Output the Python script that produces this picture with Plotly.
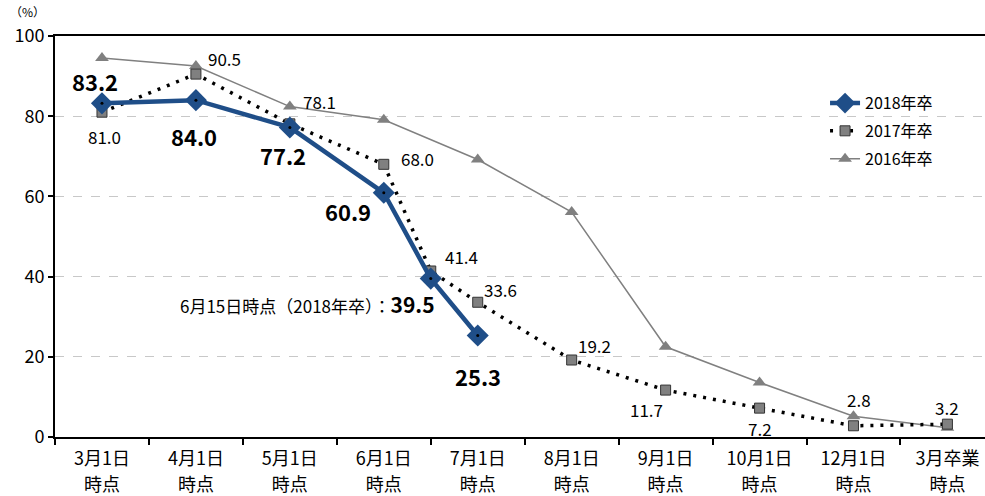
import plotly.graph_objects as go

tick_line1 = ["3月1日", "4月1日", "5月1日", "6月1日", "7月1日",
              "8月1日", "9月1日", "10月1日", "12月1日", "3月卒業"]
tick_line2 = ["時点"] * 10
cat_pos = [0, 1, 2, 3, 4, 5, 6, 7, 8, 9]

# 2018年卒 (includes 6月15日 point between 6月1日 and 7月1日)
x_2018 = [0, 1, 2, 3, 3.5, 4]
y_2018 = [83.2, 84.0, 77.2, 60.9, 39.5, 25.3]

x_2017 = [0, 1, 2, 3, 3.5, 4, 5, 6, 7, 8, 9]
y_2017 = [81.0, 90.5, 78.1, 68.0, 41.4, 33.6, 19.2, 11.7, 7.2, 2.8, 3.2]

x_2016 = [0, 1, 2, 3, 4, 5, 6, 7, 8, 9]
y_2016 = [94.5, 92.5, 82.4, 79.1, 69.2, 56.1, 22.5, 13.6, 5.2, 2.3]

# label offsets (pixels) for data labels
off_2018 = [(-7, 22), (-2, -36), (-7, -28), (-36, -18), (6, -25), (0, -40)]
off_2017 = [(3, -24), (29, 16), (30, 22), (34, 6), (31, 14), (23, 13), (23, 15),
            (-19, -19), (0, -20), (6, 26), (0, 17)]

FONT = "Noto Sans CJK JP"
BLUE = "#1F4E88"
GRAY = "#808080"

fig = go.Figure()

fig.add_trace(go.Scatter(
    x=x_2016, y=y_2016, name="2016年卒", mode="lines+markers",
    line=dict(color=GRAY, width=1.5),
    marker=dict(symbol="triangle-up", size=12, color=GRAY),
    legendgroup="c", legendrank=3,
))
fig.add_trace(go.Scatter(
    x=x_2017, y=y_2017, name="2017年卒", mode="lines+markers",
    line=dict(color="black", width=3.5, dash="3px,7px"),
    marker=dict(symbol="square", size=10, color=GRAY, line=dict(color="#333333", width=1)),
    legendgroup="b", legendrank=2,
))
fig.add_trace(go.Scatter(
    x=x_2018, y=y_2018, name="2018年卒", mode="lines+markers",
    line=dict(color=BLUE, width=4.5),
    marker=dict(symbol="diamond", size=17, color=BLUE),
    legendgroup="a", legendrank=1,
))
fig.add_trace(go.Scatter(
    x=x_2018, y=y_2018, mode="markers", showlegend=False, hoverinfo="skip",
    marker=dict(symbol="circle", size=3, color="black"),
))
# invisible trace on the second x-axis (carries the "時点" tick row)
fig.add_trace(go.Scatter(
    x=cat_pos, y=[None] * len(cat_pos), xaxis="x2", yaxis="y", mode="markers",
    showlegend=False, hoverinfo="skip", marker=dict(opacity=0),
))

annotations = []
for i, (xv, yv) in enumerate(zip(x_2018, y_2018)):
    dx, dy = off_2018[i]
    if xv == 3.5:
        annotations.append(dict(
            x=xv, y=yv, xref="x", yref="y", showarrow=False,
            text="<span style='font-size:17px;font-weight:normal'>6月15日時点（2018年卒）：</span><b>%.1f</b>" % yv,
            font=dict(family=FONT, size=21, color="black"),
            xanchor="right", yanchor="middle", xshift=dx, yshift=dy,
        ))
    else:
        annotations.append(dict(
            x=xv, y=yv, xref="x", yref="y", showarrow=False,
            text="<b>%.1f</b>" % yv,
            font=dict(family=FONT, size=22, color="black"),
            xanchor="center", yanchor="middle", xshift=dx, yshift=dy,
        ))
for i, (xv, yv) in enumerate(zip(x_2017, y_2017)):
    dx, dy = off_2017[i]
    annotations.append(dict(
        x=xv, y=yv, xref="x", yref="y", showarrow=False,
        text="%.1f" % yv,
        font=dict(family=FONT, size=17, color="black"),
        xanchor="center", yanchor="middle", xshift=dx, yshift=dy,
    ))
annotations.append(dict(
    x=-0.03, y=1.062, xref="paper", yref="paper", showarrow=False, text="（%）",
    font=dict(family=FONT, size=12, color="black"), xanchor="center", yanchor="middle",
))

fig.update_layout(annotations=annotations)

fig.update_layout(
    width=985, height=496,
    margin=dict(l=55, r=0, t=36, b=59),
    paper_bgcolor="white", plot_bgcolor="white",
    font=dict(family=FONT, size=16, color="black"),
    showlegend=True,
    legend=dict(
        x=0.828, y=0.875, xanchor="left", yanchor="top",
        font=dict(family=FONT, size=16, color="black"),
        bgcolor="rgba(0,0,0,0)", tracegroupgap=4, traceorder="grouped",
    ),
    xaxis=dict(
        range=[-0.5, 9.4], automargin=False,
        tickmode="array", tickvals=cat_pos, ticktext=tick_line1,
        ticks="", showgrid=False, zeroline=False,
        showline=True, linecolor="black", linewidth=2, mirror=True,
        tickfont=dict(family=FONT, size=18, color="black"),
        ticklabelstandoff=4,
        minor=dict(tick0=-0.5, dtick=1, ticks="outside", ticklen=6, tickwidth=1.5, tickcolor="black", showgrid=False),
        fixedrange=True,
    ),
    xaxis2=dict(
        range=[-0.5, 9.4], overlaying="x", anchor="y", side="bottom", automargin=False,
        tickmode="array", tickvals=cat_pos, ticktext=tick_line2,
        ticks="", showgrid=False, zeroline=False, showline=False,
        tickfont=dict(family=FONT, size=18, color="black"),
        ticklabelstandoff=35,
        fixedrange=True,
    ),
    yaxis=dict(
        range=[0, 100], dtick=20, tick0=0, automargin=False,
        ticks="outside", ticklen=5, tickwidth=1.5, tickcolor="black",
        showgrid=True, gridcolor="#C8C8C8", griddash="dash", gridwidth=1,
        zeroline=False, showline=True, linecolor="black", linewidth=2,
        tickfont=dict(family=FONT, size=18, color="black"),
        fixedrange=True,
    ),
)

# remove the browser's default 8px page margin so the figure fills the window
fig.write_html("out.html", config={"displayModeBar": False},
               post_script="document.body.style.margin='0';document.body.style.overflow='hidden';")
